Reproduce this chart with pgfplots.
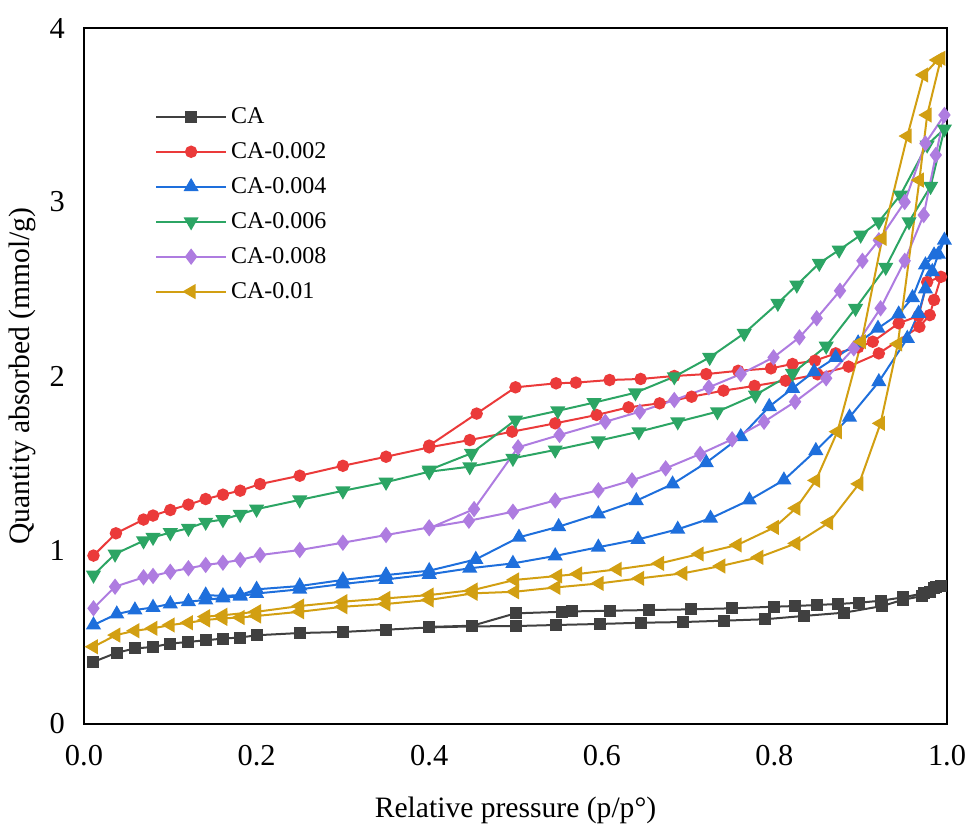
\documentclass[border=0pt]{standalone}
\usepackage{pgfplots}
\pgfplotsset{compat=1.18}
\usepackage{fontspec}
\setmainfont{Liberation Serif}
\definecolor{cCA}{HTML}{404040}
\definecolor{cR}{HTML}{EB3A3A}
\definecolor{cB}{HTML}{1E6FDC}
\definecolor{cG}{HTML}{2CA564}
\definecolor{cP}{HTML}{AE7CE0}
\definecolor{cY}{HTML}{D29F12}
\begin{document}
\begin{tikzpicture}
\begin{axis}[
  name=ax,
  scale only axis,
  width=431.5pt, height=348pt,
  xmin=0, xmax=1, ymin=0, ymax=4,
  xtick={0,0.2,0.4,0.6,0.8,1.0},
  ytick={0,1,2,3,4},
  xticklabels={0.0,0.2,0.4,0.6,0.8,1.0},
  yticklabels={0,1,2,3,4},
  major tick length=0pt,
  axis line style={line width=1.25pt},
  tick label style={font=\fontsize{15.2}{17}\selectfont},
  xticklabel style={yshift=-7pt},
  yticklabel style={xshift=-6pt},
  label style={font=\fontsize{14.8}{17}\selectfont},
  xlabel={Relative pressure (p/p°)},
  ylabel={Quantity absorbed (mmol/g)},
  xlabel style={yshift=-9pt},
  ylabel style={yshift=0pt},
  legend style={draw=none, fill=none, at={(0.075,0.898)}, anchor=north west,
    font=\fontsize{12}{14}\selectfont, row sep=4pt, cells={anchor=west}},
  legend image code/.code={\draw[mark repeat=2,mark phase=2,#1] plot coordinates {(0pt,0pt) (17.5pt,0pt) (35pt,0pt)};},
  every axis plot/.append style={line width=1pt},
]
% CA
\addplot[color=cCA, mark=square*, mark size=2.5pt, mark options={solid}] coordinates {
(0.011,0.357)(0.038,0.41)(0.059,0.434)(0.08,0.443)(0.10,0.462)(0.121,0.472)(0.141,0.481)(0.161,0.491)(0.181,0.497)(0.20,0.51)(0.25,0.523)(0.30,0.529)(0.35,0.542)(0.40,0.555)(0.45,0.561)(0.50,0.563)(0.547,0.569)(0.598,0.575)(0.645,0.582)(0.694,0.586)(0.742,0.594)(0.789,0.602)(0.834,0.621)(0.881,0.64)(0.925,0.678)(0.949,0.714)(0.971,0.735)(0.98,0.76)(0.987,0.785)(0.993,0.795)
(0.985,0.78)(0.973,0.751)(0.949,0.728)(0.924,0.709)(0.898,0.697)(0.874,0.69)(0.849,0.684)(0.824,0.678)(0.799,0.674)(0.751,0.665)(0.703,0.659)(0.655,0.655)(0.609,0.651)(0.565,0.647)(0.554,0.645)(0.50,0.636)(0.45,0.565)(0.40,0.558)
};
\addlegendentry{CA}
% CA-0.002
\addplot[color=cR, mark=*, mark size=2.6pt] coordinates {
(0.011,0.968)(0.037,1.096)(0.069,1.175)(0.08,1.198)(0.10,1.23)(0.121,1.261)(0.141,1.293)(0.161,1.318)(0.181,1.341)(0.204,1.379)(0.25,1.427)(0.30,1.484)(0.35,1.536)(0.40,1.59)(0.447,1.632)(0.496,1.68)(0.546,1.728)(0.594,1.776)(0.631,1.82)(0.667,1.843)(0.704,1.881)(0.741,1.916)(0.777,1.943)(0.813,1.973)(0.85,2.01)(0.886,2.054)(0.921,2.13)(0.968,2.283)(0.98,2.35)(0.985,2.437)(0.993,2.57)
(0.977,2.54)(0.967,2.345)(0.944,2.303)(0.914,2.197)(0.897,2.165)(0.871,2.13)(0.847,2.088)(0.821,2.069)(0.796,2.044)(0.758,2.03)(0.721,2.011)(0.684,2.0)(0.645,1.983)(0.609,1.977)(0.57,1.962)(0.547,1.958)(0.50,1.935)(0.455,1.784)(0.40,1.60)
};
\addlegendentry{CA-0.002}
% CA-0.004
\addplot[color=cB, mark=triangle*, mark size=3.4pt] coordinates {
(0.011,0.569)(0.038,0.632)(0.059,0.655)(0.08,0.67)(0.10,0.69)(0.121,0.703)(0.141,0.713)(0.161,0.725)(0.181,0.735)(0.20,0.75)(0.25,0.774)(0.30,0.805)(0.35,0.831)(0.40,0.86)(0.447,0.895)(0.497,0.923)(0.546,0.966)(0.596,1.016)(0.642,1.061)(0.688,1.119)(0.726,1.182)(0.771,1.287)(0.811,1.402)(0.848,1.571)(0.887,1.763)(0.921,1.967)(0.954,2.216)(0.967,2.36)(0.975,2.50)(0.983,2.60)(0.99,2.70)(0.997,2.78)
(0.985,2.695)(0.975,2.638)(0.96,2.45)(0.944,2.356)(0.92,2.274)(0.897,2.19)(0.871,2.107)(0.846,2.025)(0.821,1.929)(0.794,1.824)(0.761,1.651)(0.721,1.502)(0.682,1.379)(0.64,1.283)(0.596,1.207)(0.55,1.134)(0.504,1.073)(0.454,0.946)(0.40,0.881)(0.35,0.856)(0.30,0.828)(0.25,0.793)(0.20,0.774)(0.181,0.741)(0.161,0.736)(0.141,0.741)
};
\addlegendentry{CA-0.004}
% CA-0.006
\addplot[color=cG, mark=triangle*, mark size=3.4pt, mark options={rotate=180}] coordinates {
(0.011,0.856)(0.036,0.977)(0.069,1.053)(0.08,1.073)(0.10,1.10)(0.121,1.125)(0.141,1.16)(0.161,1.175)(0.181,1.205)(0.20,1.235)(0.25,1.288)(0.30,1.34)(0.35,1.39)(0.40,1.45)(0.447,1.479)(0.497,1.527)(0.546,1.575)(0.596,1.628)(0.643,1.68)(0.688,1.737)(0.734,1.795)(0.778,1.891)(0.821,2.015)(0.86,2.172)(0.894,2.389)(0.929,2.625)(0.956,2.887)(0.981,3.09)(0.997,3.42)
(0.977,3.328)(0.946,3.04)(0.921,2.887)(0.90,2.81)(0.875,2.724)(0.852,2.648)(0.826,2.523)(0.804,2.418)(0.765,2.245)(0.725,2.107)(0.684,1.996)(0.639,1.904)(0.591,1.847)(0.549,1.80)(0.50,1.747)(0.449,1.556)(0.40,1.46)
};
\addlegendentry{CA-0.006}
% CA-0.008
\addplot[color=cP, mark=diamond*, mark size=3.3pt] coordinates {
(0.011,0.665)(0.036,0.789)(0.069,0.843)(0.08,0.851)(0.10,0.875)(0.121,0.895)(0.141,0.914)(0.161,0.927)(0.181,0.943)(0.204,0.971)(0.25,1.00)(0.30,1.042)(0.35,1.086)(0.40,1.13)(0.446,1.168)(0.497,1.22)(0.546,1.285)(0.596,1.343)(0.635,1.40)(0.674,1.469)(0.714,1.552)(0.751,1.636)(0.788,1.737)(0.824,1.852)(0.86,1.987)(0.892,2.159)(0.923,2.389)(0.951,2.662)(0.973,2.925)(0.987,3.27)(0.997,3.50)
(0.975,3.337)(0.951,3.00)(0.921,2.78)(0.902,2.662)(0.876,2.49)(0.849,2.332)(0.829,2.222)(0.799,2.107)(0.761,2.011)(0.724,1.935)(0.684,1.862)(0.644,1.795)(0.604,1.737)(0.551,1.661)(0.503,1.59)(0.452,1.235)(0.40,1.125)
};
\addlegendentry{CA-0.008}
% CA-0.01
\addplot[color=cY, mark=triangle*, mark size=3.4pt, mark options={rotate=90}] coordinates {
(0.011,0.444)(0.037,0.511)(0.059,0.536)(0.08,0.55)(0.10,0.569)(0.121,0.582)(0.141,0.598)(0.161,0.607)(0.181,0.612)(0.20,0.621)(0.25,0.645)(0.30,0.674)(0.35,0.69)(0.40,0.713)(0.451,0.751)(0.499,0.76)(0.547,0.785)(0.597,0.808)(0.644,0.837)(0.694,0.866)(0.738,0.908)(0.782,0.958)(0.825,1.038)(0.863,1.157)(0.898,1.38)(0.923,1.728)(0.943,2.184)(0.968,3.126)(0.977,3.50)(0.993,3.826)
(0.989,3.816)(0.973,3.73)(0.954,3.379)(0.925,2.791)(0.901,2.197)(0.873,1.68)(0.848,1.40)(0.825,1.24)(0.80,1.13)(0.757,1.029)(0.713,0.977)(0.667,0.923)(0.618,0.889)(0.572,0.862)(0.549,0.851)(0.499,0.828)(0.451,0.77)(0.40,0.741)(0.35,0.722)(0.30,0.703)(0.25,0.678)(0.20,0.645)(0.161,0.625)(0.141,0.617)
};
\addlegendentry{CA-0.01}
\end{axis}
\pgfresetboundingbox
\path ([xshift=-42pt,yshift=-50.5pt]ax.south west) rectangle ([xshift=10pt,yshift=14pt]ax.north east);
\end{tikzpicture}
\end{document}
